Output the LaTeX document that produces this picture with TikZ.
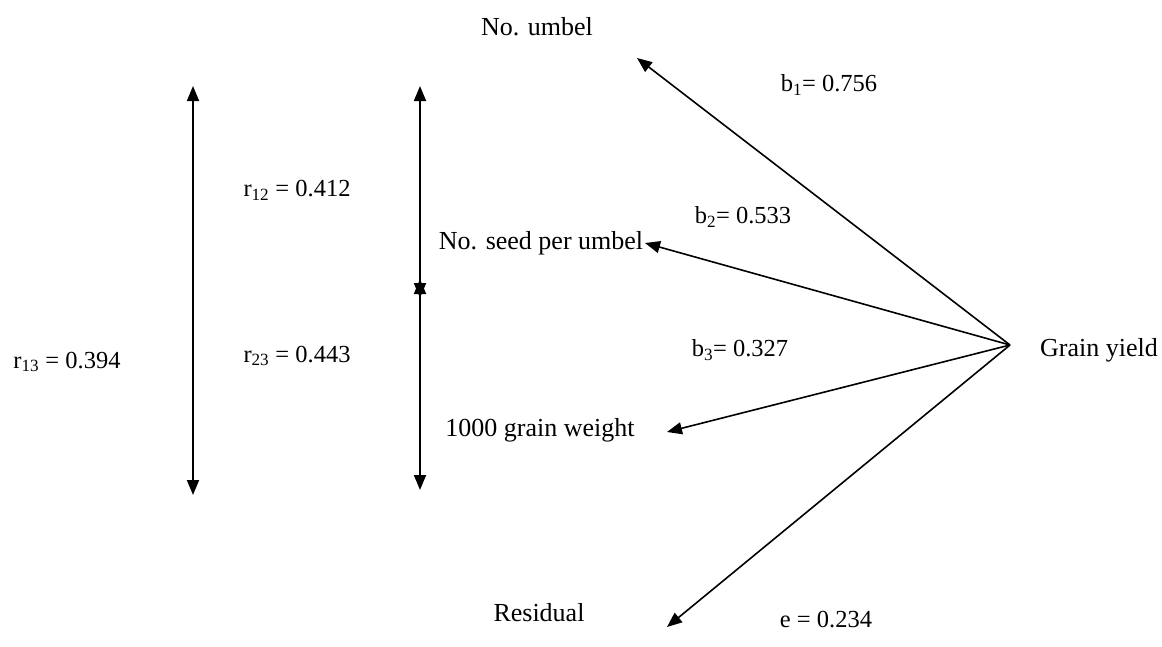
\documentclass[tikz,border=0pt]{standalone}
\usepackage{fontspec}
\setmainfont{Liberation Serif}
\usetikzlibrary{arrows.meta}
\tikzset{
  tip/.tip={Triangle[length=15pt,width=12pt]},
  conn/.style={line width=1.6pt, -tip},
  bconn/.style={line width=1.8pt, tip-tip},
  lab/.style={inner sep=0pt, font=\fontsize{26}{30}\selectfont},
  coef/.style={inner sep=0pt, font=\fontsize{24.5}{28}\selectfont},
}
\begin{document}
\begin{tikzpicture}[x=1pt,y=-1pt]
\useasboundingbox (0,0) rectangle (1162,646);
% labels
\node[lab] (umb) at (537,27) {No. umbel};
\node[lab] (seed) at (541,243) {No. seed per umbel};
\node[lab] (tgw) at (540,430) {1000 grain weight};
\node[lab] (res) at (539,613) {Residual};
\node[lab, anchor=west] (gy) at (1040,350) {Grain yield};
\node[coef] (b1) at (829,85) {b\textsubscript{1}= 0.756};
\node[coef] (b2) at (743,217) {b\textsubscript{2}= 0.533};
\node[coef] (b3) at (740,350) {b\textsubscript{3}= 0.327};
\node[coef] (e) at (826,620) {e = 0.234};
\node[coef] (r12) at (297,190) {r\textsubscript{12} = 0.412};
\node[coef] (r23) at (297,356) {r\textsubscript{23} = 0.443};
\node[coef] (r13) at (67,362) {r\textsubscript{13} = 0.394};
% coordinates
\coordinate (hub) at (1010,345);
\coordinate (tU) at (637,58);
\coordinate (tS) at (645,243);
\coordinate (tT) at (667,432);
\coordinate (tR) at (667,627);
\coordinate (L1a) at (193,86);
\coordinate (L1b) at (193,495);
\coordinate (L2a) at (420,86);
\coordinate (L2b) at (420,298);
\coordinate (L3a) at (420,279);
\coordinate (L3b) at (420,490);
% connectors
\draw[conn] (hub) -- (tU);
\draw[conn] (hub) -- (tS);
\draw[conn] (hub) -- (tT);
\draw[conn] (hub) -- (tR);
\draw[bconn] (L1a) -- (L1b);
\draw[bconn] (L2a) -- (L2b);
\draw[bconn] (L3a) -- (L3b);
\end{tikzpicture}
\end{document}
